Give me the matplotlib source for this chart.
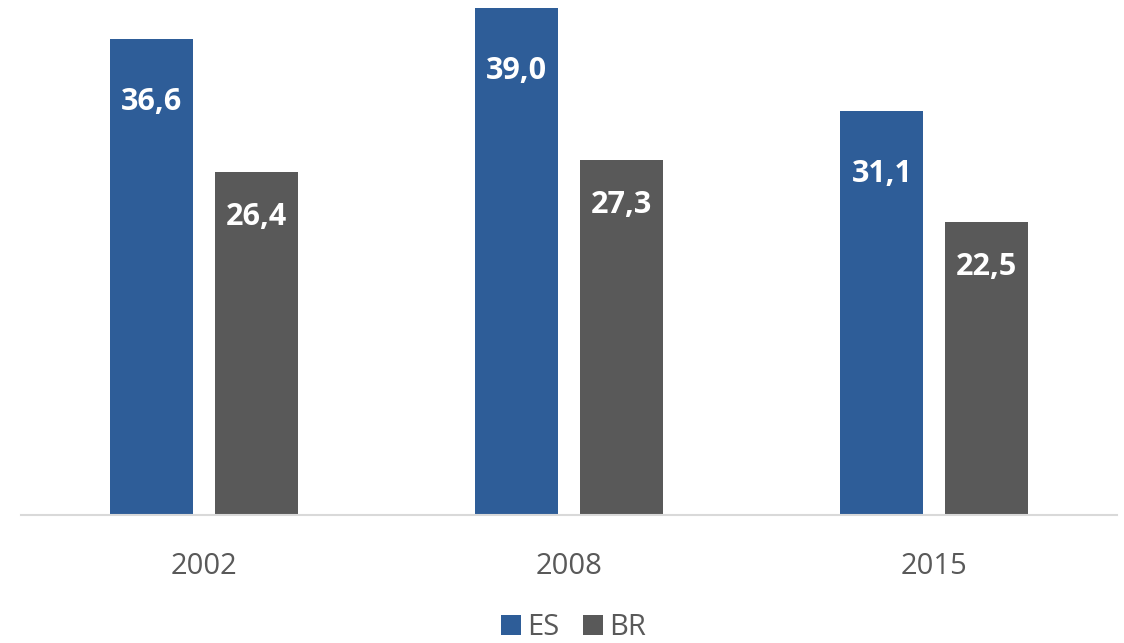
import matplotlib.pyplot as plt
import numpy as np

years = ['2002', '2008', '2015']
es = [36.6, 39.0, 31.1]
br = [26.4, 27.3, 22.5]

plt.rcParams['font.family'] = ['Open Sans', 'DejaVu Sans']

fig = plt.figure(figsize=(11.24, 6.43), dpi=100)
ax = fig.add_axes([21 / 1124, 1 - 515 / 643, 1096 / 1124, 515 / 643])

x = np.arange(len(years))
w = 0.227
gap = 0.06
b1 = ax.bar(x - (w + gap) / 2, es, w, color='#2E5D98', label='ES')
b2 = ax.bar(x + (w + gap) / 2, br, w, color='#595959', label='BR')

for bars, off in ((b1, -63), (b2, -45)):
    for r in bars:
        ax.annotate(f'{r.get_height():.1f}'.replace('.', ','),
                    (r.get_x() + r.get_width() / 2, r.get_height()),
                    xytext=(0, off * 0.72), textcoords='offset points',
                    ha='center', va='center', color='white',
                    fontsize=22, fontweight='bold')

ax.set_xlim(-0.5, 2.5)
ax.set_ylim(0, 39.6)
ax.set_xticks(x)
ax.set_xticklabels(years, fontsize=21, color='#595959')
ax.tick_params(axis='x', length=0, pad=27)
ax.set_yticks([])
for s in ['top', 'right', 'left']:
    ax.spines[s].set_visible(False)
ax.spines['bottom'].set_color('#d9d9d9')
ax.spines['bottom'].set_linewidth(1.5)

fig.legend(loc='lower center', bbox_to_anchor=(0.51, -0.04), ncol=2,
           frameon=False, fontsize=21, labelcolor='#595959',
           handlelength=0.7, handleheight=0.7, handletextpad=0.2,
           columnspacing=0.8)

fig.savefig('out.png', dpi=100)
